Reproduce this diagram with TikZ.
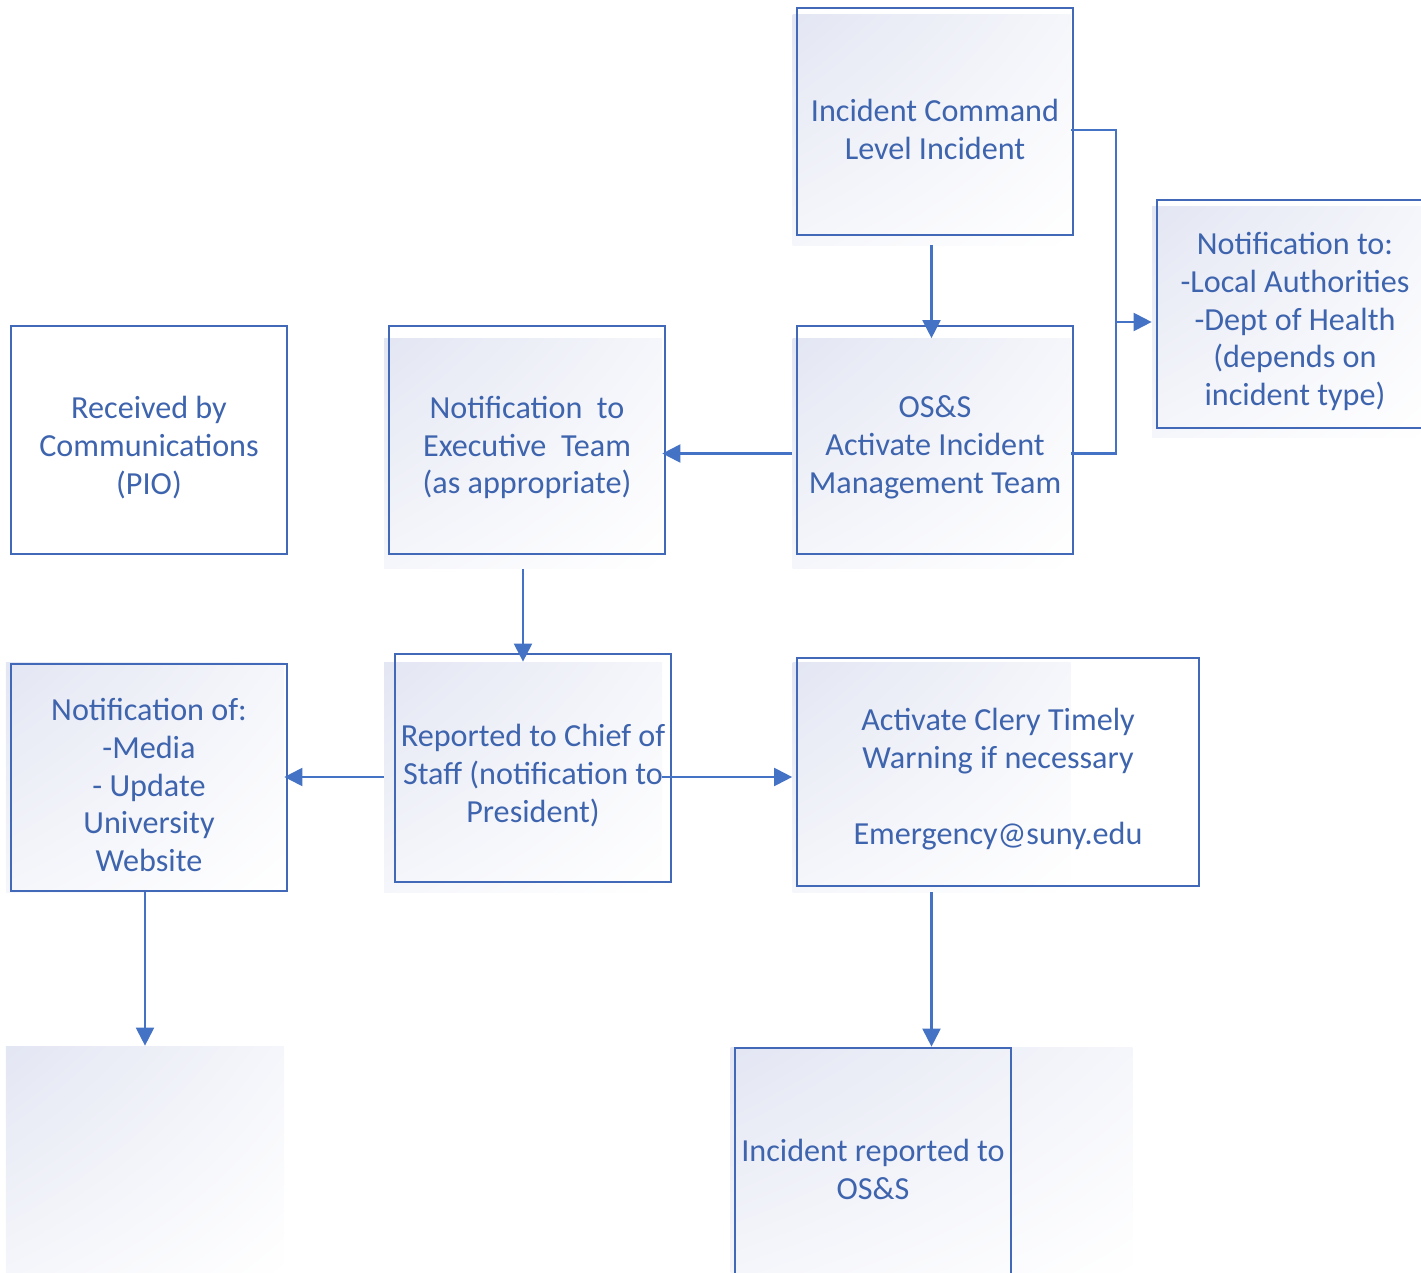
\documentclass[tikz,border=0pt]{standalone}
\usepackage{fontspec}
\setmainfont{Carlito}
\usetikzlibrary{arrows.meta,shadings}
\pgfdeclarelayer{bg}
\pgfsetlayers{bg,main}
\definecolor{lineblue}{HTML}{4472C4}
\definecolor{boxblue}{HTML}{4169B8}
\definecolor{txtblue}{HTML}{3E64AE}
\definecolor{lav}{HTML}{E3E6F3}
\tikzset{
    box/.style={rectangle, draw=boxblue, line width=1.1pt, inner sep=0mm,
        minimum width=5.52cm, minimum height=4.55cm}
}
\tikzset{every label/.style={shape=rectangle, draw=none, text=txtblue, align=center,
        font=\fontsize{18.3}{21.6}\selectfont, inner sep=0mm, yshift=-0.15cm}}
\tikzset{
    shadebox/.style={rectangle, draw=none, inner sep=0mm,
        upper left=lav, upper right=lav!35!white, lower left=lav!35!white, lower right=white,
        minimum width=5.56cm, minimum height=4.6cm},
    arr/.style={draw=lineblue, line width=1.2pt, -{Triangle[length=3.6mm, width=3.6mm]}},
    conn/.style={draw=lineblue, line width=1.2pt}
}

\begin{document}
\begin{tikzpicture}
        \useasboundingbox (0cm, 0cm) rectangle (28.42cm, -25.46cm);
        \begin{pgfonlayer}{bg}
                \node (s0) [shadebox] at (18.630000cm, -2.600000cm) {};
                \node (s1) [shadebox] at (18.630000cm, -9.070000cm) {};
                \node (s2) [shadebox] at (10.460000cm, -9.070000cm) {};
                \node (s3) [shadebox] at (25.820000cm, -6.440000cm) {};
                \node (s4) [shadebox] at (10.460000cm, -15.540000cm) {};
                \node (s5) [shadebox] at (18.630000cm, -15.540000cm) {};
                \node (s6) [shadebox] at (2.900000cm, -15.540000cm) {};
                \node (s7) [shadebox, minimum width=8.04cm] at (18.630000cm, -23.240000cm) {};
                \node (s8) [shadebox] at (2.900000cm, -23.220000cm) {};
        \end{pgfonlayer}
        \node (b0) [box, label=center:{Incident Command\\Level Incident}] at (18.700000cm, -2.430000cm) {};
        \node (b1) [box, label=center:{OS\&S\\Activate Incident\\Management Team}] at (18.700000cm, -8.800000cm) {};
        \node (b2) [box, label=center:{Notification~~to\\Executive~~Team\\(as appropriate)}] at (10.540000cm, -8.800000cm) {};
        \node (b3) [box, label=center:{Received by\\Communications\\(PIO)}] at (2.980000cm, -8.800000cm) {};
        \node (b4) [box, label=center:{Notification to:\\-Local Authorities\\-Dept of Health\\(depends on\\incident type)}] at (25.900000cm, -6.280000cm) {};
        \node (b5) [box, label=center:{Reported to Chief of\\Staff (notification to\\President)}] at (10.660000cm, -15.360000cm) {};
        \node (b6) [box, minimum width=8.04cm, label=center:{Activate Clery Timely\\Warning if necessary\\~\\Emergency@suny.edu}] at (19.960000cm, -15.440000cm) {};
        \node (b7) [box, label=center:{Notification of:\\-Media\\- Update\\University\\Website}] at (2.980000cm, -15.550000cm) {};
        \node (b8) [box, label=center:{Incident reported to\\OS\&S}] at (17.460000cm, -23.240000cm) {};
        \coordinate (j0) at (22.320000cm, -6.440000cm);
        \draw (s0) edge [arr] (s1);
        \draw (s1) edge [arr] (s2);
        \draw (s2) edge [arr] (s4);
        \draw (s4) edge [arr] (s6);
        \draw (s4) edge [arr] (s5);
        \draw (s5) edge [arr] (s7);
        \draw (s6) edge [arr] (s8);
        \draw [conn] (s0.east) -| (j0) |- (s1.east);
        \draw (j0) edge [arr] (s3);
\end{tikzpicture}
\end{document}
